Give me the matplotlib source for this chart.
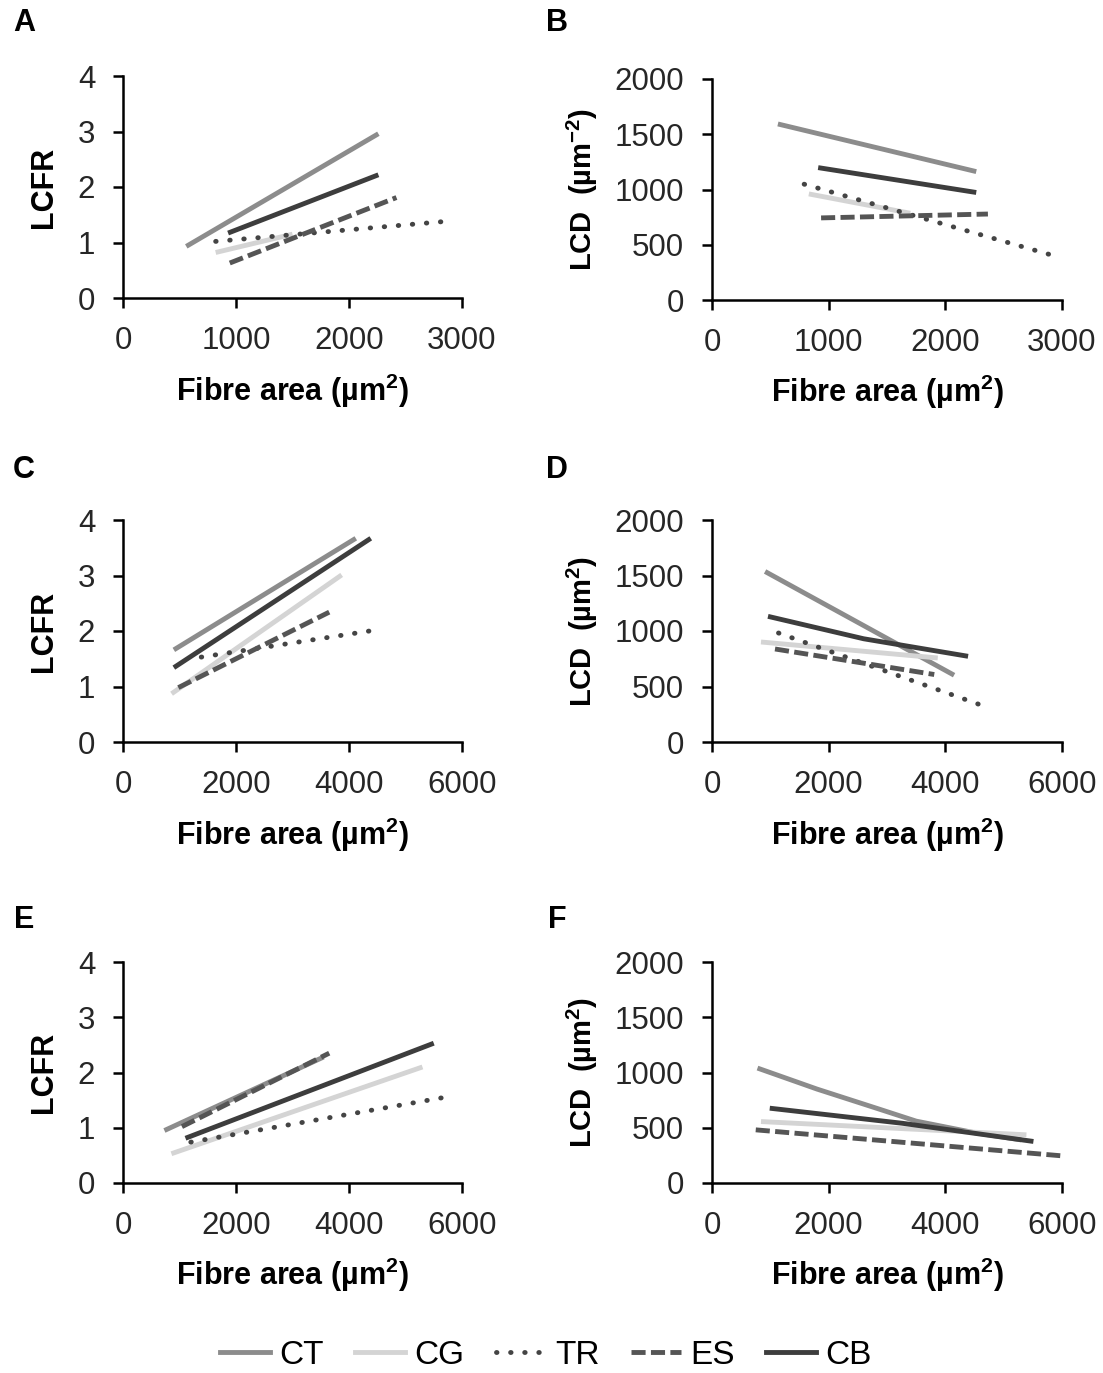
import matplotlib
matplotlib.use("Agg")
import matplotlib.pyplot as plt
from matplotlib.lines import Line2D

plt.rcParams['font.family'] = ['Liberation Sans', 'DejaVu Sans']
plt.rcParams['mathtext.fontset'] = 'custom'
plt.rcParams['mathtext.rm'] = 'Liberation Sans'
plt.rcParams['mathtext.bf'] = 'Liberation Sans:bold'

series = ["CT", "CG", "TR", "ES", "CB"]

# panel A: LCFR vs fibre area
a_x = {"CT": [560, 2260], "CG": [820, 1500], "TR": [820, 2910],
       "ES": [945, 2420], "CB": [930, 2260]}
a_y = {"CT": [0.93, 2.96], "CG": [0.82, 1.15], "TR": [1.02, 1.39],
       "ES": [0.63, 1.81], "CB": [1.17, 2.22]}

# panel B: LCD vs fibre area
b_x = {"CT": [565, 2265], "CG": [830, 1700], "TR": [790, 2970],
       "ES": [935, 2365], "CB": [910, 2265]}
b_y = {"CT": [1593, 1162], "CG": [960, 785], "TR": [1048, 389],
       "ES": [743, 778], "CB": [1198, 973]}

# panel C
c_x = {"CT": [900, 4120], "CG": [860, 3870], "TR": [1385, 4490],
       "ES": [980, 3650], "CB": [900, 4385]}
c_y = {"CT": [1.66, 3.67], "CG": [0.87, 3.01], "TR": [1.53, 2.02],
       "ES": [0.98, 2.34], "CB": [1.34, 3.67]}

# panel D
d_x = {"CT": [910, 4150], "CG": [840, 3870], "TR": [1140, 4760],
       "ES": [1080, 3810], "CB": [960, 2600, 4390]}
d_y = {"CT": [1536, 602], "CG": [901, 757], "TR": [982, 305],
       "ES": [838, 608], "CB": [1132, 930, 772]}

# panel E
e_x = {"CT": [733, 3550], "CG": [857, 5300], "TR": [1200, 5800],
       "ES": [1043, 3650], "CB": [1106, 5500]}
e_y = {"CT": [0.95, 2.28], "CG": [0.53, 2.10], "TR": [0.74, 1.57],
       "ES": [1.02, 2.35], "CB": [0.81, 2.53]}

# panel F (TR not visible)
f_x = {"CT": [780, 1800, 2800, 3500, 4500, 5300], "CG": [840, 5390],
       "ES": [750, 5970], "CB": [990, 3270, 5510]}
f_y = {"CT": [1040, 850, 680, 560, 455, 390], "CG": [556, 436],
       "ES": [481, 247], "CB": [677, 540, 376]}

styles = {
    "CT": dict(color="#8c8c8c", linestyle="-"),
    "CG": dict(color="#d4d4d4", linestyle="-"),
    "TR": dict(color="#444444", linestyle=(0, (0.1, 2.8)), dash_capstyle="round"),
    "ES": dict(color="#555555", linestyle=(0, (2.9, 1.1))),
    "CB": dict(color="#3d3d3d", linestyle="-"),
}

W, H = 1103, 1373
fig = plt.figure(figsize=(W / 100, H / 100), dpi=100)


def make_ax(left, right, top, bottom):
    return fig.add_axes([left / W, 1 - bottom / H, (right - left) / W, (bottom - top) / H])


panels = [
    ("A", a_x, a_y, (123, 462, 76, 298), "lcfr", 3000),
    ("B", b_x, b_y, (712, 1062, 79, 300), "lcd-2", 3000),
    ("C", c_x, c_y, (123, 462, 520, 742), "lcfr", 6000),
    ("D", d_x, d_y, (712, 1062, 520, 742), "lcd2", 6000),
    ("E", e_x, e_y, (123, 462, 962, 1183), "lcfr", 6000),
    ("F", f_x, f_y, (712, 1062, 962, 1183), "lcd2", 6000),
]

for letter, xs, ys, box, kind, xmax in panels:
    ax = make_ax(*box)
    for s in series:
        if s in xs:
            ax.plot(xs[s], ys[s], lw=3.5, solid_capstyle="butt", **styles[s])
    ax.set_xlim(0, xmax)
    step = 1000 if xmax == 3000 else 2000
    ax.set_xticks(range(0, xmax + 1, step))
    if kind == "lcfr":
        ax.set_ylim(0, 4)
        ax.set_yticks([0, 1, 2, 3, 4])
        ax.set_ylabel("LCFR", fontsize=22, fontweight="bold")
        ax.yaxis.set_label_coords(-0.19, 0.5)
    else:
        ax.set_ylim(0, 2000)
        ax.set_yticks([0, 500, 1000, 1500, 2000])
        sup = "-2" if kind == "lcd-2" else "2"
        ax.set_ylabel("LCD  (µm$^{\\mathbf{" + sup + "}}$)", fontsize=21, fontweight="bold")
        ax.yaxis.set_label_coords(-0.32, 0.5)
    ax.set_xlabel("Fibre area (µm$^{\\mathbf{2}}$)", fontsize=22, fontweight="bold")
    ax.xaxis.set_label_coords(0.5, -0.33)
    for sp in ["top", "right"]:
        ax.spines[sp].set_visible(False)
    for sp in ["left", "bottom"]:
        ax.spines[sp].set_linewidth(1.8)
        ax.spines[sp].set_color("black")
    ax.tick_params(direction="out", length=7, width=1.8, pad=13,
                   labelsize=22.5, labelcolor="#262626")
    lx = 24 if letter in "ACE" else 557
    ly = {"A": 23, "B": 23, "C": 470, "D": 470, "E": 920, "F": 920}[letter]
    fig.text(lx / W, 1 - ly / H, letter, fontsize=22, fontweight="bold",
             ha="center", va="center")

handles = [Line2D([], [], lw=3.5, **styles[s]) for s in series]
fig.legend(handles, series, loc="center", bbox_to_anchor=(0.495, 1 - 1355 / H),
           ncol=5, frameon=False, fontsize=24, handlelength=1.5,
           handletextpad=0.27, columnspacing=0.95)

fig.savefig("out.png", dpi=100)
